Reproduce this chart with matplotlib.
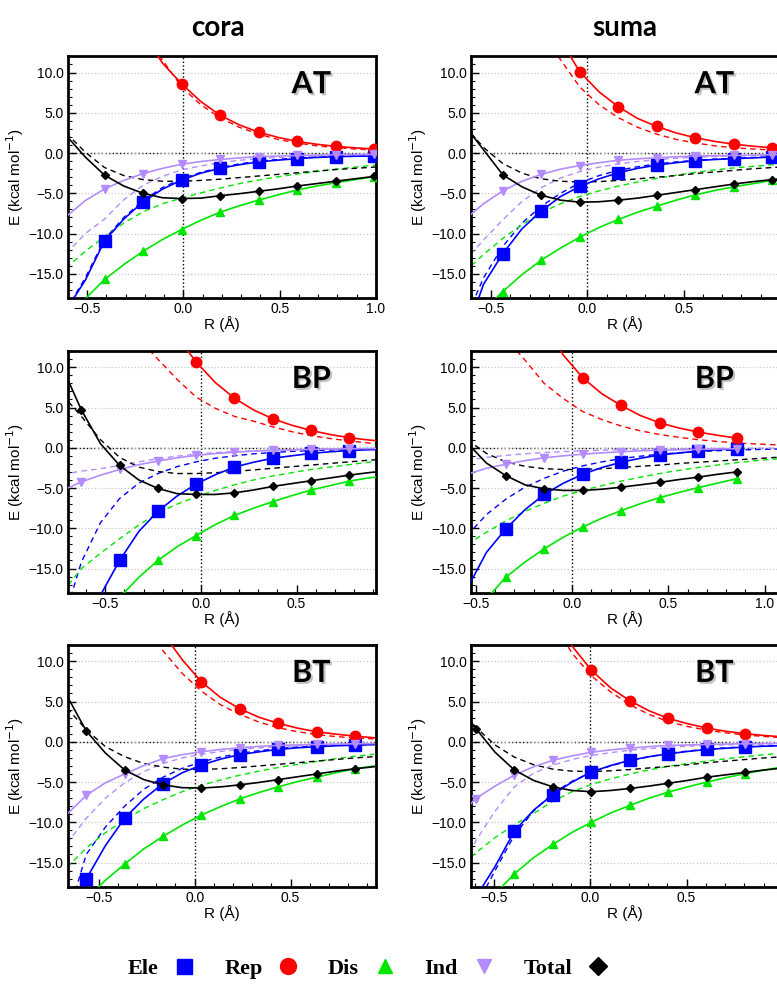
import numpy as np
import matplotlib
matplotlib.use("Agg")
import matplotlib.pyplot as plt
from matplotlib.lines import Line2D
from matplotlib.ticker import MultipleLocator, FuncFormatter
import matplotlib.patheffects as pe

nan = np.nan

# ---- AT / cora ----
at_cora_x = [-0.61, -0.51, -0.41, -0.31, -0.21, -0.11, -0.01, 0.09, 0.19, 0.29, 0.39, 0.49, 0.59, 0.69, 0.79, 0.89, 0.99, 1.09]
at_cora_mk = [-0.41, -0.21, -0.01, 0.19, 0.39, 0.59, 0.79, 0.99]
at_cora_ele = [-19.5, -15.8, -10.9, -8.2, -6.05, -4.5, -3.35, -2.5, -1.9, -1.45, -1.1, -0.88, -0.7, -0.55, -0.45, -0.4, -0.37, -0.33]
at_cora_rep = [37, 30, 24, 19, 15, 11.2, 8.6, 6.4, 4.7, 3.5, 2.6, 1.95, 1.45, 1.1, 0.83, 0.65, 0.5, 0.4]
at_cora_dis = [-21, -18.1, -15.7, -13.85, -12.2, -10.75, -9.5, -8.35, -7.35, -6.55, -5.85, -5.2, -4.6, -4.1, -3.7, -3.3, -2.95, -2.7]
at_cora_ind = [-7.9, -5.9, -4.45, -3.4, -2.55, -1.9, -1.4, -1.05, -0.8, -0.6, -0.45, -0.37, -0.3, -0.25, -0.2, -0.18, -0.17, -0.15]
at_cora_tot = [2.2, -0.5, -2.75, -4.1, -5.0, -5.55, -5.65, -5.6, -5.3, -5.05, -4.75, -4.45, -4.1, -3.8, -3.5, -3.2, -2.9, -2.65]
at_cora_ele_d = [-19.5, -15.5, -10.7, -8.0, -5.9, -4.3, -3.2, -2.4, -1.8, -1.35, -1.0, -0.8, -0.6, -0.5, -0.42, -0.36, -0.32, -0.3]
at_cora_rep_d = [36, 29, 23, 18.5, 14.8, 11.6, 8.2, 6.0, 4.4, 3.2, 2.35, 1.7, 1.25, 0.9, 0.68, 0.5, 0.38, 0.3]
at_cora_dis_d = [-14.3, -12.2, -10.4, -8.7, -7.3, -6.3, -5.6, -4.95, -4.35, -3.8, -3.35, -2.95, -2.6, -2.3, -2.0, -1.75, -1.5, -1.3]
at_cora_ind_d = [-12.5, -10.0, -8.2, -5.8, -4.0, -2.9, -2.1, -1.6, -1.2, -0.9, -0.7, -0.55, -0.45, -0.37, -0.3, -0.25, -0.22, -0.2]
at_cora_tot_d = [2.5, 0.1, -1.8, -2.8, -3.3, -3.5, -3.5, -3.4, -3.25, -3.05, -2.85, -2.65, -2.45, -2.25, -2.05, -1.9, -1.75, -1.6]

# ---- AT / suma ----
at_suma_x = [-0.64, -0.54, -0.44, -0.34, -0.24, -0.14, -0.04, 0.06, 0.16, 0.26, 0.36, 0.46, 0.56, 0.66, 0.76, 0.86, 0.96, 1.06]
at_suma_mk = [-0.44, -0.24, -0.04, 0.16, 0.36, 0.56, 0.76, 0.96]
at_suma_ele = [-23, -16.3, -12.5, -9.4, -7.2, -5.4, -4.15, -3.2, -2.45, -1.9, -1.5, -1.2, -0.95, -0.8, -0.7, -0.6, -0.5, -0.45]
at_suma_rep = [45, 37, 30, 24, 18.5, 14, 10.1, 7.6, 5.75, 4.3, 3.3, 2.5, 1.9, 1.45, 1.1, 0.85, 0.65, 0.5]
at_suma_dis = [-22, -19.5, -17.2, -15.1, -13.3, -11.8, -10.45, -9.25, -8.25, -7.35, -6.6, -5.85, -5.2, -4.65, -4.2, -3.8, -3.4, -3.1]
at_suma_ind = [-8.3, -6.3, -4.7, -3.5, -2.65, -2.0, -1.55, -1.2, -0.9, -0.72, -0.58, -0.47, -0.37, -0.33, -0.3, -0.25, -0.2, -0.18]
at_suma_tot = [3.5, 0.4, -2.7, -4.2, -5.25, -5.85, -6.1, -6.05, -5.85, -5.6, -5.25, -4.9, -4.55, -4.2, -3.85, -3.55, -3.3, -3.05]
at_suma_ele_d = [-21, -15.5, -11.6, -8.7, -6.6, -5.0, -3.7, -2.8, -2.15, -1.7, -1.35, -1.1, -0.9, -0.75, -0.65, -0.55, -0.48, -0.42]
at_suma_rep_d = [35, 29, 24, 19, 15, 11.6, 8.2, 6.0, 4.4, 3.2, 2.35, 1.7, 1.25, 0.9, 0.65, 0.5, 0.38, 0.3]
at_suma_dis_d = [-14.8, -12.6, -10.6, -8.9, -7.4, -6.3, -5.4, -4.7, -4.1, -3.6, -3.15, -2.75, -2.4, -2.1, -1.85, -1.65, -1.45, -1.3]
at_suma_ind_d = [-13.5, -10.8, -8.3, -6.0, -4.3, -3.1, -2.3, -1.75, -1.35, -1.05, -0.82, -0.65, -0.52, -0.43, -0.36, -0.3, -0.26, -0.22]
at_suma_tot_d = [3.4, 0.7, -1.3, -2.5, -3.2, -3.5, -3.6, -3.55, -3.4, -3.2, -3.0, -2.8, -2.55, -2.35, -2.15, -1.95, -1.8, -1.65]

# ---- BP / cora ----
bp_cora_x = [-0.725, -0.625, -0.525, -0.425, -0.325, -0.225, -0.125, -0.025, 0.075, 0.175, 0.275, 0.375, 0.475, 0.575, 0.675, 0.775, 0.875, 0.975]
bp_cora_mk = [-0.625, -0.425, -0.225, -0.025, 0.175, 0.375, 0.575, 0.775]
bp_cora_ele = [-33, -25, -18.3, -14.0, -10.4, -7.9, -6.0, -4.5, -3.35, -2.4, -1.8, -1.3, -1.0, -0.7, -0.5, -0.35, -0.25, -0.18]
bp_cora_rep = [60, 48, 38, 30, 23, 18, 13.8, 10.65, 8.1, 6.15, 4.7, 3.6, 2.8, 2.15, 1.65, 1.25, 0.97, 0.75]
bp_cora_dis = [-34, -28, -23, -18.6, -16.1, -14.0, -12.3, -10.9, -9.55, -8.4, -7.5, -6.7, -5.95, -5.25, -4.7, -4.15, -3.75, -3.45]
bp_cora_ind = [-5.3, -4.25, -3.4, -2.7, -2.1, -1.65, -1.25, -0.95, -0.72, -0.55, -0.42, -0.33, -0.26, -0.2, -0.16, -0.12, -0.1, -0.08]
bp_cora_tot = [10, 4.7, 0.5, -2.2, -4.0, -5.05, -5.7, -5.8, -5.8, -5.6, -5.25, -4.8, -4.45, -4.1, -3.75, -3.4, -3.1, -2.85]
bp_cora_ele_d = [-22, -14.2, -9.3, -6.3, -4.4, -3.2, -2.35, -1.75, -1.3, -1.0, -0.75, -0.6, -0.45, -0.35, -0.28, -0.22, -0.18, -0.15]
bp_cora_rep_d = [40, 30, 23, 17.5, 13.5, 11.0, 8.5, 6.3, 4.9, 3.9, 3.3, 2.6, 2.0, 1.5, 1.15, 0.85, 0.6, 0.45]
bp_cora_dis_d = [-18, -15.0, -13.1, -11.3, -9.6, -8.1, -7.0, -6.1, -5.3, -4.6, -4.0, -3.5, -3.1, -2.7, -2.4, -2.1, -1.8, -1.6]
bp_cora_ind_d = [-3.3, -2.9, -2.6, -2.2, -1.75, -1.35, -1.05, -0.8, -0.6, -0.47, -0.37, -0.3, -0.24, -0.19, -0.15, -0.12, -0.1, -0.08]
bp_cora_tot_d = [6.6, 3.9, 1.0, -1.2, -2.4, -2.95, -3.2, -3.2, -3.1, -2.95, -2.75, -2.55, -2.35, -2.15, -1.95, -1.75, -1.55, -1.4]

# ---- BP / suma ----
bp_suma_x = [-0.545, -0.445, -0.345, -0.245, -0.145, -0.045, 0.055, 0.155, 0.255, 0.355, 0.455, 0.555, 0.655, 0.755, 0.855, 0.955, 1.055, 1.155]
bp_suma_mk = [-0.345, -0.145, 0.055, 0.255, 0.455, 0.655, 0.855]
bp_suma_ele = [-17.5, -13.0, -10.1, -7.7, -5.8, -4.4, -3.3, -2.45, -1.8, -1.3, -0.9, -0.65, -0.42, -0.25, -0.1, nan, nan, nan]
bp_suma_rep = [45, 35, 27, 21, 15.5, 11.5, 8.7, 6.7, 5.25, 4.0, 3.1, 2.45, 1.95, 1.55, 1.2, nan, nan, nan]
bp_suma_dis = [-22.5, -18.8, -16.1, -14.2, -12.55, -11.1, -9.85, -8.75, -7.8, -6.95, -6.2, -5.55, -4.95, -4.4, -3.85, nan, nan, nan]
bp_suma_ind = [-3.3, -2.55, -2.05, -1.6, -1.25, -1.0, -0.8, -0.63, -0.5, -0.38, -0.3, -0.25, -0.2, -0.15, -0.12, nan, nan, nan]
bp_suma_tot = [0.6, -1.9, -3.45, -4.6, -5.1, -5.3, -5.3, -5.15, -4.9, -4.6, -4.3, -3.95, -3.65, -3.3, -3.0, nan, nan, nan]
bp_suma_ele_d = [-10.9, -8.3, -6.4, -4.9, -3.8, -2.9, -2.25, -1.75, -1.35, -1.05, -0.8, -0.62, -0.48, -0.37, -0.28, -0.22, -0.17, -0.14]
bp_suma_rep_d = [21, 17, 13.6, 10.9, 8.0, 6.1, 4.5, 3.5, 2.7, 2.1, 1.65, 1.3, 1.0, 0.78, 0.6, 0.47, 0.37, 0.3]
bp_suma_dis_d = [-12.0, -10.5, -9.1, -7.9, -6.9, -6.0, -5.3, -4.7, -4.15, -3.65, -3.2, -2.8, -2.45, -2.15, -1.85, -1.6, -1.4, -1.2]
bp_suma_ind_d = [-1.55, -1.2, -0.95, -0.75, -0.6, -0.48, -0.38, -0.3, -0.24, -0.19, -0.15, -0.12, -0.1, -0.08, -0.07, -0.06, -0.05, -0.04]
bp_suma_tot_d = [1.0, -0.7, -1.75, -2.3, -2.6, -2.7, -2.7, -2.6, -2.45, -2.3, -2.15, -1.95, -1.8, -1.65, -1.5, -1.35, -1.2, -1.1]

# ---- BT / cora ----
bt_cora_x = [-0.665, -0.565, -0.465, -0.365, -0.265, -0.165, -0.065, 0.035, 0.135, 0.235, 0.335, 0.435, 0.535, 0.635, 0.735, 0.835, 0.935]
bt_cora_mk = [-0.565, -0.365, -0.165, 0.035, 0.235, 0.435, 0.635, 0.835]
bt_cora_ele = [-26, -17.05, -12.9, -9.5, -7.1, -5.2, -3.85, -2.9, -2.15, -1.6, -1.25, -0.95, -0.75, -0.62, -0.5, -0.42, -0.35]
bt_cora_rep = [40, 32, 26, 21, 17, 13.5, 10.2, 7.45, 5.5, 4.1, 3.05, 2.3, 1.7, 1.25, 0.95, 0.7, 0.5]
bt_cora_dis = [-22, -19.5, -17.2, -15.2, -13.3, -11.75, -10.35, -9.1, -8.05, -7.1, -6.3, -5.6, -4.95, -4.4, -3.85, -3.35, -3.0]
bt_cora_ind = [-9.0, -6.65, -5.1, -4.0, -2.95, -2.1, -1.6, -1.25, -0.95, -0.75, -0.57, -0.45, -0.38, -0.33, -0.28, -0.25, -0.22]
bt_cora_tot = [5.7, 1.35, -1.4, -3.5, -4.7, -5.35, -5.7, -5.75, -5.6, -5.35, -5.05, -4.7, -4.35, -4.0, -3.65, -3.35, -3.1]
bt_cora_ele_d = [-22, -14.0, -10.6, -8.0, -5.9, -4.4, -3.3, -2.5, -1.9, -1.45, -1.1, -0.85, -0.65, -0.52, -0.43, -0.37, -0.33]
bt_cora_rep_d = [35, 28, 22.5, 18, 14.5, 11.3, 8.5, 6.3, 4.6, 3.4, 2.45, 1.75, 1.25, 0.9, 0.65, 0.48, 0.36]
bt_cora_dis_d = [-15.6, -13.2, -11.3, -9.7, -8.3, -7.2, -6.2, -5.4, -4.75, -4.15, -3.65, -3.2, -2.8, -2.45, -2.1, -1.8, -1.55]
bt_cora_ind_d = [-12.6, -9.5, -7.0, -5.1, -3.7, -2.7, -2.0, -1.55, -1.2, -0.95, -0.75, -0.6, -0.5, -0.42, -0.36, -0.31, -0.27]
bt_cora_tot_d = [4.2, 1.5, -0.6, -1.85, -2.7, -3.15, -3.4, -3.45, -3.35, -3.2, -3.0, -2.8, -2.6, -2.4, -2.2, -2.0, -1.85]

# ---- BT / suma ----
bt_suma_x = [-0.695, -0.595, -0.495, -0.395, -0.295, -0.195, -0.095, 0.005, 0.105, 0.205, 0.305, 0.405, 0.505, 0.605, 0.705, 0.805, 0.905, 1.005]
bt_suma_mk = [-0.595, -0.395, -0.195, 0.005, 0.205, 0.405, 0.605, 0.805]
bt_suma_ele = [-25, -19.3, -15.5, -11.1, -8.5, -6.55, -5.0, -3.75, -2.95, -2.3, -1.85, -1.5, -1.2, -0.95, -0.8, -0.65, -0.55, -0.48]
bt_suma_rep = [50, 40, 32, 26, 20.5, 16, 11.9, 8.9, 6.7, 5.1, 3.85, 2.9, 2.25, 1.7, 1.3, 1.0, 0.78, 0.6]
bt_suma_dis = [-25, -22, -18.9, -16.4, -14.4, -12.75, -11.25, -10.0, -8.85, -7.9, -7.0, -6.25, -5.6, -5.0, -4.45, -3.95, -3.5, -3.1]
bt_suma_ind = [-9.5, -7.05, -5.5, -4.15, -3.1, -2.3, -1.75, -1.3, -1.0, -0.8, -0.6, -0.45, -0.4, -0.33, -0.28, -0.25, -0.22, -0.2]
bt_suma_tot = [5.0, 1.65, -1.3, -3.5, -4.8, -5.6, -6.05, -6.2, -6.05, -5.8, -5.5, -5.15, -4.8, -4.4, -4.1, -3.8, -3.5, -3.25]
bt_suma_ele_d = [-27, -20.5, -16.0, -11.6, -8.6, -6.4, -4.9, -3.8, -3.0, -2.35, -1.85, -1.45, -1.15, -0.92, -0.75, -0.62, -0.52, -0.45]
bt_suma_rep_d = [45, 36, 29, 23.5, 18.8, 14.8, 11.0, 8.2, 6.2, 4.6, 3.4, 2.5, 1.9, 1.45, 1.1, 0.85, 0.65, 0.5]
bt_suma_dis_d = [-16.0, -13.8, -11.9, -10.3, -8.9, -7.4, -6.2, -5.3, -4.6, -4.0, -3.5, -3.05, -2.7, -2.4, -2.1, -1.85, -1.6, -1.4]
bt_suma_ind_d = [-17, -12.3, -8.6, -5.6, -3.9, -2.9, -2.2, -1.7, -1.35, -1.05, -0.85, -0.68, -0.55, -0.45, -0.38, -0.32, -0.28, -0.25]
bt_suma_tot_d = [5.0, 1.8, -0.4, -1.9, -2.85, -3.4, -3.65, -3.7, -3.6, -3.45, -3.25, -3.05, -2.85, -2.6, -2.4, -2.2, -2.0, -1.85]

terms = ["Ele", "Rep", "Dis", "Ind", "Total"]
colors = ["#0000ff", "#ff0000", "#00e600", "#b38cff", "#000000"]
markers = ["s", "o", "^", "v", "D"]
msizes = [8.5, 7.5, 5.5, 6, 4.5]

panels = [
    ("AT", 0, 0, at_cora_x, at_cora_mk, [at_cora_ele, at_cora_rep, at_cora_dis, at_cora_ind, at_cora_tot],
     [at_cora_ele_d, at_cora_rep_d, at_cora_dis_d, at_cora_ind_d, at_cora_tot_d], (-0.6, 1.0)),
    ("AT", 0, 1, at_suma_x, at_suma_mk, [at_suma_ele, at_suma_rep, at_suma_dis, at_suma_ind, at_suma_tot],
     [at_suma_ele_d, at_suma_rep_d, at_suma_dis_d, at_suma_ind_d, at_suma_tot_d], (-0.605, 0.995)),
    ("BP", 1, 0, bp_cora_x, bp_cora_mk, [bp_cora_ele, bp_cora_rep, bp_cora_dis, bp_cora_ind, bp_cora_tot],
     [bp_cora_ele_d, bp_cora_rep_d, bp_cora_dis_d, bp_cora_ind_d, bp_cora_tot_d], (-0.695, 0.915)),
    ("BP", 1, 1, bp_suma_x, bp_suma_mk, [bp_suma_ele, bp_suma_rep, bp_suma_dis, bp_suma_ind, bp_suma_tot],
     [bp_suma_ele_d, bp_suma_rep_d, bp_suma_dis_d, bp_suma_ind_d, bp_suma_tot_d], (-0.525, 1.075)),
    ("BT", 2, 0, bt_cora_x, bt_cora_mk, [bt_cora_ele, bt_cora_rep, bt_cora_dis, bt_cora_ind, bt_cora_tot],
     [bt_cora_ele_d, bt_cora_rep_d, bt_cora_dis_d, bt_cora_ind_d, bt_cora_tot_d], (-0.66, 0.945)),
    ("BT", 2, 1, bt_suma_x, bt_suma_mk, [bt_suma_ele, bt_suma_rep, bt_suma_dis, bt_suma_ind, bt_suma_tot],
     [bt_suma_ele_d, bt_suma_rep_d, bt_suma_dis_d, bt_suma_ind_d, bt_suma_tot_d], (-0.62, 0.98)),
]

plt.rcParams["font.family"] = ["Liberation Sans", "DejaVu Sans"]

fig = plt.figure(figsize=(7.77, 9.85), dpi=100)
col_left = [0.0875, 0.6062]
row_bottom = [0.6975, 0.3983, 0.0998]
ax_w, ax_h = 0.3964, 0.2452

fmt = FuncFormatter(lambda v, p: f"{v:.1f}".replace("-", "\u2212"))

for name, r, c, x, mk, solid, dashed, xlim in panels:
    ax = fig.add_axes([col_left[c], row_bottom[r], ax_w, ax_h])
    x = np.array(x)
    sel = np.any(np.isclose(x[:, None], np.array(mk)[None, :]), axis=1)

    ax.yaxis.grid(True, which="major", color="#c8c8c8", ls=":", lw=0.9)
    ax.axhline(0, color="k", ls=":", lw=1.0, zorder=1)
    ax.axvline(0, color="k", ls=":", lw=1.0, zorder=1)

    for ys, col in zip(dashed, colors):
        ax.plot(x, ys, ls=(0, (4, 3)), color=col, lw=1.0, zorder=2)
    for ys, col, m, ms in zip(solid, colors, markers, msizes):
        ax.plot(x, ys, "-", color=col, lw=1.2, marker=m, ms=ms, mec=col,
                markevery=list(np.where(sel)[0]), zorder=3)

    ax.set_xlim(*xlim)
    ax.set_ylim(-18, 12)
    ax.xaxis.set_major_locator(MultipleLocator(0.5))
    ax.xaxis.set_minor_locator(MultipleLocator(0.1))
    ax.yaxis.set_major_locator(MultipleLocator(5))
    ax.yaxis.set_minor_locator(MultipleLocator(1))
    ax.yaxis.set_major_formatter(fmt)
    ax.xaxis.set_major_formatter(fmt)
    ax.tick_params(which="both", direction="in", top=False, right=False, labelsize=10, pad=3)
    ax.tick_params(which="major", length=6, width=1)
    ax.tick_params(which="minor", length=3, width=0.8)
    for s in ax.spines.values():
        s.set_linewidth(2)
    ax.set_xlabel("R (\u00c5)", fontsize=11, labelpad=0)
    ax.set_ylabel("E (kcal mol$^{-1}$)", fontsize=11, labelpad=2)
    ax.text(0.79, 0.885, name, transform=ax.transAxes, ha="center", va="center",
            fontsize=22, fontweight="bold", family="Lato", zorder=5,
            path_effects=[pe.withSimplePatchShadow(offset=(1.5, -1.5), shadow_rgbFace="#888888", alpha=0.5)])

fig.text(0.28, 0.972, "cora", ha="center", va="center", fontsize=20, fontweight="bold", family="Lato")
fig.text(0.804, 0.972, "suma", ha="center", va="center", fontsize=20, fontweight="bold", family="Lato")

handles = [Line2D([], [], ls="none", marker=m, color=col, ms=ms * 1.35)
           for m, col, ms in zip(markers, colors, [8, 8.5, 7.5, 7.5, 7])]
fig.legend(handles, terms, loc="center", bbox_to_anchor=(0.474, 0.017), ncol=5, frameon=False,
           markerfirst=False, handlelength=1.0, handletextpad=0.65, columnspacing=1.3,
           prop={"family": "Liberation Serif", "weight": "bold", "size": 16})

fig.savefig("out.png", dpi=100)
